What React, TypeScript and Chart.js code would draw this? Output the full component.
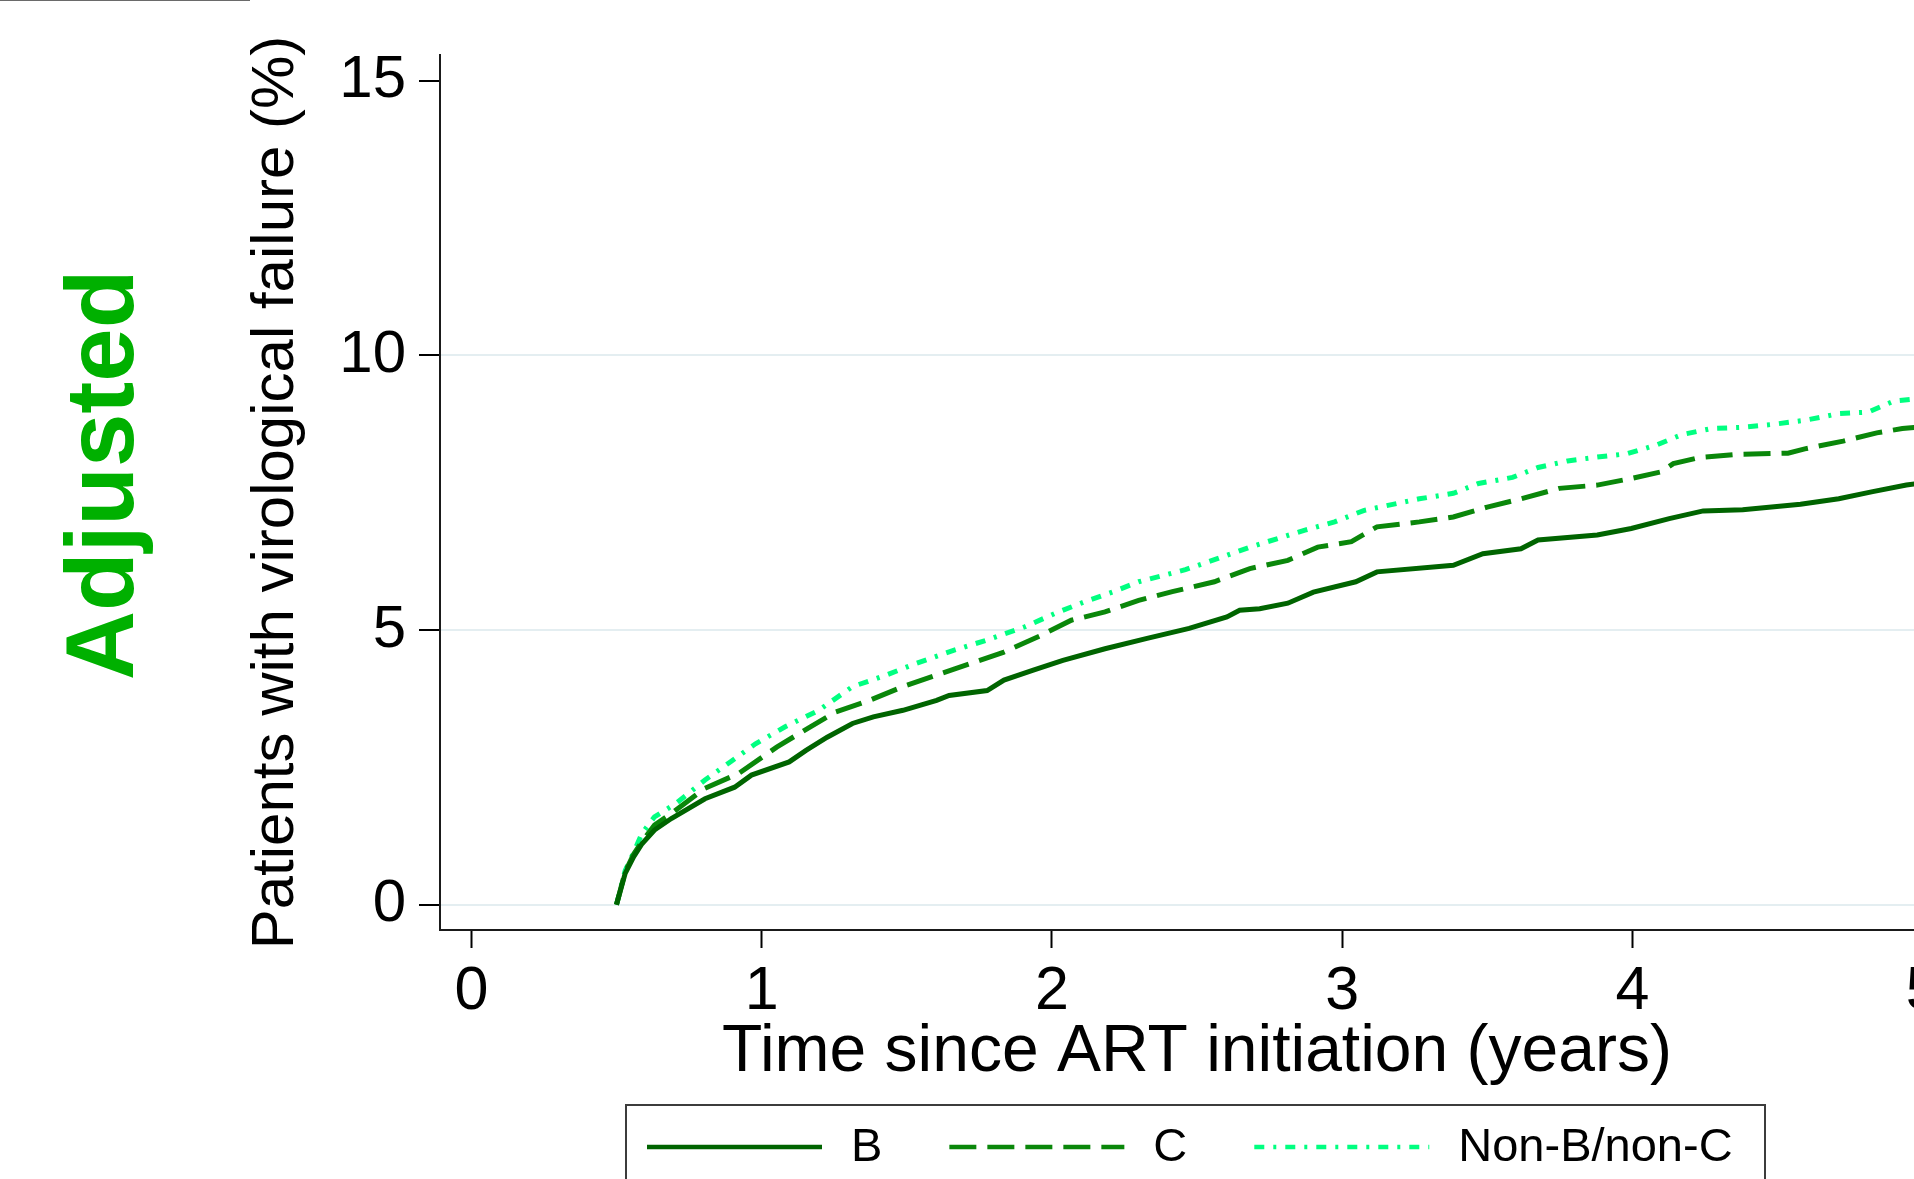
import React, { useEffect, useRef } from 'react';
import { Chart, registerables } from 'chart.js';

Chart.register(...registerables);

const seriesLabels = ['B', 'C', 'Non-B/non-C'];
const seriesColors = ['#006400', '#0a870a', '#00ff80'];
const seriesDashes: number[][] = [[], [27, 11], [10, 9, 3, 9]];

const bTime = [0.5, 0.53, 0.559, 0.588, 0.631, 0.689, 0.805, 0.907, 0.965, 1.095, 1.153, 1.226, 1.313, 1.385, 1.487, 1.603, 1.646, 1.777, 1.835, 1.936, 2.038, 2.183, 2.328, 2.473, 2.603, 2.647, 2.716, 2.813, 2.901, 3.047, 3.12, 3.383, 3.485, 3.616, 3.675, 3.879, 3.996, 4.127, 4.244, 4.38, 4.579, 4.711, 4.828, 4.944, 5.0];
const bValue = [0, 0.57, 0.87, 1.11, 1.36, 1.57, 1.93, 2.14, 2.36, 2.6, 2.81, 3.05, 3.3, 3.42, 3.54, 3.72, 3.81, 3.9, 4.09, 4.27, 4.45, 4.66, 4.85, 5.03, 5.24, 5.36, 5.39, 5.49, 5.69, 5.88, 6.06, 6.18, 6.39, 6.48, 6.64, 6.73, 6.85, 7.03, 7.17, 7.19, 7.29, 7.39, 7.52, 7.64, 7.68];

const cTime = [0.5, 0.53, 0.559, 0.588, 0.631, 0.689, 0.805, 0.921, 1.052, 1.168, 1.255, 1.371, 1.487, 1.603, 1.719, 1.835, 1.965, 2.067, 2.183, 2.299, 2.415, 2.56, 2.682, 2.813, 2.916, 3.032, 3.12, 3.266, 3.383, 3.5, 3.616, 3.748, 3.879, 3.996, 4.098, 4.141, 4.229, 4.36, 4.536, 4.594, 4.726, 4.842, 4.93, 5.0];
const cValue = [0, 0.6, 0.92, 1.15, 1.45, 1.66, 2.12, 2.39, 2.87, 3.24, 3.51, 3.72, 3.97, 4.18, 4.39, 4.6, 4.91, 5.18, 5.33, 5.54, 5.7, 5.88, 6.12, 6.27, 6.51, 6.61, 6.88, 6.97, 7.06, 7.24, 7.39, 7.58, 7.64, 7.76, 7.88, 8.03, 8.14, 8.2, 8.22, 8.3, 8.44, 8.59, 8.67, 8.7];

const nTime = [0.5, 0.53, 0.559, 0.588, 0.631, 0.704, 0.805, 0.892, 0.979, 1.081, 1.197, 1.313, 1.429, 1.53, 1.661, 1.777, 1.907, 2.009, 2.11, 2.212, 2.299, 2.46, 2.57, 2.682, 2.872, 2.974, 3.076, 3.266, 3.383, 3.47, 3.587, 3.675, 3.777, 3.879, 3.981, 4.083, 4.171, 4.273, 4.375, 4.492, 4.594, 4.711, 4.813, 4.901, 5.0];
const nValue = [0, 0.62, 0.95, 1.3, 1.6, 1.84, 2.27, 2.6, 2.93, 3.24, 3.54, 3.97, 4.18, 4.39, 4.63, 4.82, 5.06, 5.3, 5.51, 5.7, 5.88, 6.1, 6.3, 6.51, 6.82, 6.97, 7.18, 7.39, 7.49, 7.67, 7.78, 7.96, 8.08, 8.15, 8.21, 8.37, 8.56, 8.67, 8.69, 8.75, 8.82, 8.94, 8.97, 9.17, 9.22];

const xTicks = [0, 1, 2, 3, 4, 5];
const yTicks = [0, 5, 10, 15];
const xTitle = 'Time since ART initiation (years)';
const yTitle = 'Patients with virological failure (%)';
const sideTitle = 'Adjusted';

const FONT = '"Liberation Sans", Arial, Helvetica, sans-serif';

export default function App() {
  const ref = useRef<HTMLCanvasElement>(null);

  useEffect(() => {
    const canvas = ref.current;
    if (!canvas) return;
    const toPoints = (t: number[], v: number[]) => t.map((x, i) => ({ x, y: v[i] }));
    const series = [toPoints(bTime, bValue), toPoints(cTime, cValue), toPoints(nTime, nValue)];

    const extrasPlugin = {
      id: 'extras',
      afterDraw(chart: any) {
        const ctx = chart.ctx as CanvasRenderingContext2D;
        ctx.save();
        // legend box
        ctx.strokeStyle = '#3c3c3c';
        ctx.lineWidth = 2;
        ctx.setLineDash([]);
        ctx.strokeRect(626, 1105, 1139, 100);
        const y = 1147;
        let x = 647;
        ctx.font = `47px ${FONT}`;
        ctx.textBaseline = 'middle';
        ctx.textAlign = 'left';
        chart.data.datasets.forEach((ds: any) => {
          ctx.beginPath();
          ctx.setLineDash(ds.borderDash || []);
          ctx.strokeStyle = ds.borderColor;
          ctx.lineWidth = 4.5;
          ctx.lineCap = 'butt';
          ctx.moveTo(x, y);
          ctx.lineTo(x + 175, y);
          ctx.stroke();
          ctx.setLineDash([]);
          ctx.fillStyle = '#000';
          ctx.fillText(ds.label, x + 204, y + 1);
          x = x + 204 + ctx.measureText(ds.label).width + 67;
        });
        // side title
        ctx.translate(133, 475);
        ctx.rotate(-Math.PI / 2);
        ctx.font = `bold 96px ${FONT}`;
        ctx.fillStyle = '#00b000';
        ctx.textAlign = 'center';
        ctx.textBaseline = 'alphabetic';
        ctx.fillText(sideTitle, 0, 0);
        ctx.restore();
      },
    };

    const chart = new Chart(canvas, {
      type: 'line',
      data: {
        datasets: seriesLabels.map((label, i) => ({
          label,
          data: series[i],
          borderColor: seriesColors[i],
          backgroundColor: seriesColors[i],
          borderDash: seriesDashes[i],
          borderWidth: 5,
          pointRadius: 0,
          tension: 0,
          fill: false,
        })),
      },
      options: {
        animation: false,
        responsive: false,
        devicePixelRatio: 1,
        layout: { padding: { left: 200, top: 55, right: 46, bottom: 154 } },
        plugins: { legend: { display: false }, tooltip: { enabled: false } },
        scales: {
          x: {
            type: 'linear',
            min: -0.108,
            max: 5.108,
            afterBuildTicks: (s: any) => { s.ticks = xTicks.map((v) => ({ value: v })); },
            afterFit: (s: any) => { s.height = 156; },
            ticks: {
              includeBounds: false,
              color: '#000',
              padding: 14,
              maxRotation: 0,
              font: { family: FONT, size: 61, lineHeight: 1 },
              callback: (v: any) => String(v),
            },
            grid: {
              drawOnChartArea: false,
              drawTicks: true,
              tickLength: 18,
              tickColor: '#000',
              tickWidth: 2,
            },
            border: { display: true, color: '#1a1a1a', width: 2 },
            title: {
              display: true,
              text: xTitle,
              color: '#000',
              font: { family: FONT, size: 66, lineHeight: 1 },
              padding: { top: 0, bottom: 0 },
            },
          },
          y: {
            type: 'linear',
            min: -0.46,
            max: 15.47,
            afterBuildTicks: (s: any) => { s.ticks = yTicks.map((v) => ({ value: v })); },
            afterFit: (s: any) => { s.width = 240; },
            ticks: {
              includeBounds: false,
              color: '#000',
              padding: 13,
              font: { family: FONT, size: 60, lineHeight: 1 },
              callback: (v: any) => String(v),
            },
            grid: {
              drawOnChartArea: true,
              drawTicks: true,
              tickLength: 21,
              tickColor: '#000',
              tickWidth: 2,
              lineWidth: 2,
              color: (c: any) => (c.tick && c.tick.value === 15 ? 'rgba(0,0,0,0)' : '#e4eef1'),
            },
            border: { display: true, color: '#1a1a1a', width: 2 },
            title: {
              display: true,
              text: yTitle,
              color: '#000',
              font: { family: FONT, size: 60, lineHeight: 1 },
              padding: { top: 46, bottom: 0 },
            },
          },
        },
      },
      plugins: [extrasPlugin],
    } as any);

    return () => chart.destroy();
  }, []);

  return (
    <div
      style={{
        position: 'fixed',
        left: 0,
        top: 0,
        width: 1914,
        height: 1179,
        overflow: 'hidden',
        background: '#fff',
      }}
    >
      <div style={{ position: 'absolute', left: 0, top: 0, width: 250, height: 1, background: '#6a6a6a' }} />
      <canvas ref={ref} width={2000} height={1240} style={{ display: 'block', width: 2000, height: 1240 }} />
    </div>
  );
}
